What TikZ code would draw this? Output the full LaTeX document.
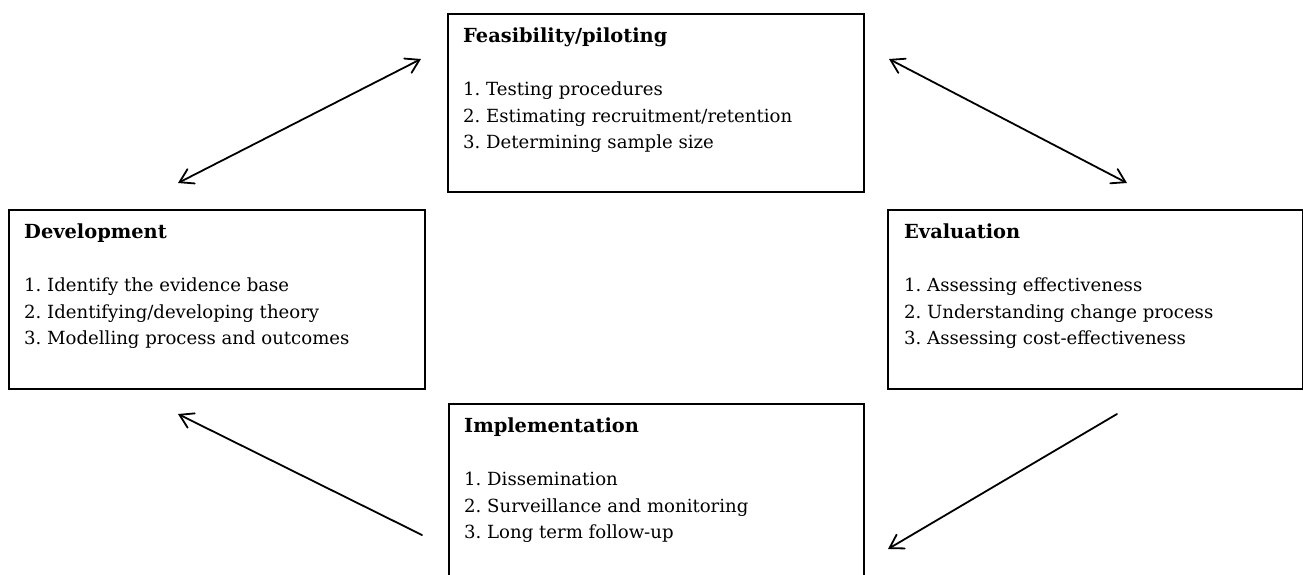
\documentclass[tikz,border=0pt]{standalone}
\usepackage{fontspec}
\setmainfont{DejaVu Serif}
\usetikzlibrary{arrows.meta}
\frenchspacing
\tikzset{
  stagebox/.style={draw, line width=1.8pt, minimum width=#1, anchor=north west, inner sep=0pt},
  stagetext/.style={anchor=north west, inner sep=0pt, align=left, font=\fontsize{18.1}{26.5}\selectfont},
  flow/.style={line width=1.8pt, line cap=round},
  barbtip/.tip={Straight Barb[length=13pt,width=16pt,line cap=round]}
}
\newcommand{\stagetitle}[1]{{\fontsize{19.4}{26.5}\selectfont\bfseries #1}}
\begin{document}
\begin{tikzpicture}[x=1pt,y=-1pt]
\clip (0,0) rectangle (1303,574);
\fill[white] (0,0) rectangle (1303,574);
% boxes
\node[stagebox=416pt, minimum height=178pt] (feas) at (447,13) {};
\node[stagebox=416pt, minimum height=179pt] (dev) at (8,209) {};
\node[stagebox=415pt, minimum height=179pt] (eval) at (887,209) {};
\node[stagebox=415pt, minimum height=200pt] (impl) at (448,403) {};
% texts
\node[stagetext] (feast) at (463,28) {\stagetitle{Feasibility/piloting}\\[26.5pt]1. Testing procedures\\2. Estimating recruitment/retention\\3. Determining sample size};
\node[stagetext] (devt) at (24,224) {\stagetitle{Development}\\[26.5pt]1. Identify the evidence base\\2. Identifying/developing theory\\3. Modelling process and outcomes};
\node[stagetext] (evalt) at (904,224) {\stagetitle{Evaluation}\\[26.5pt]1. Assessing effectiveness\\2. Understanding change process\\3. Assessing cost-effectiveness};
\node[stagetext] (implt) at (464,418) {\stagetitle{Implementation}\\[26.5pt]1. Dissemination\\2. Surveillance and monitoring\\3. Long term follow-up};
% connector end points
\coordinate (d1) at (178,183);
\coordinate (f1) at (421,59);
\coordinate (f2) at (889,59);
\coordinate (e1) at (1127,183);
\coordinate (e2) at (1117,414);
\coordinate (i1) at (888,549);
\coordinate (i2) at (422,535);
\coordinate (d2) at (178,414);
% connectors
\draw[flow, barbtip-barbtip] (d1) -- (f1);
\draw[flow, barbtip-barbtip] (f2) -- (e1);
\draw[flow, -barbtip] (e2) -- (i1);
\draw[flow, -barbtip] (i2) -- (d2);
\end{tikzpicture}
\end{document}
